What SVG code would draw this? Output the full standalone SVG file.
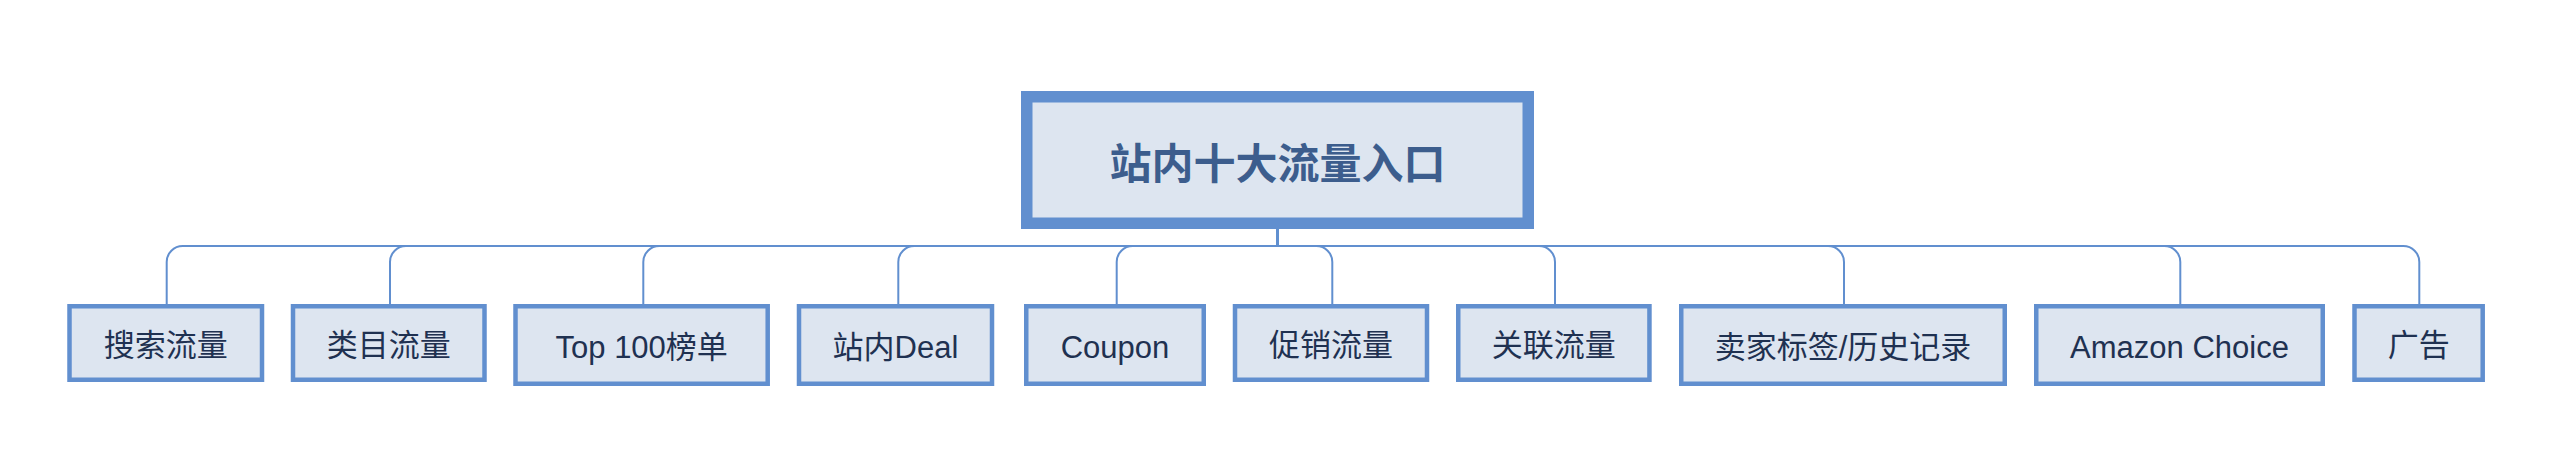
<svg xmlns="http://www.w3.org/2000/svg" width="2560" height="452" viewBox="0 0 2560 452">
<style>
.box{fill:#dde5f0;stroke:#618fcf;stroke-width:4.5}
.root{fill:#dde5f0;stroke:#618fcf;stroke-width:11.5}
.conn{fill:none;stroke:#618fcf;stroke-width:2}
.lt{font-family:"Liberation Sans","Noto Sans CJK SC",sans-serif;font-size:31px;fill:#1f3151;text-anchor:middle;dominant-baseline:central}
.rt{font-family:"Noto Sans CJK SC","Liberation Sans",sans-serif;font-size:42px;font-weight:bold;fill:#3c5d8d;text-anchor:middle;dominant-baseline:central}
</style>
<rect width="2560" height="452" fill="#ffffff"/>
<g id="connectors">
<path class="conn" d="M1277.5 228V246H182.7A16 16 0 0 0 166.7 262V304"/>
<path class="conn" d="M1277.5 228V246H406A16 16 0 0 0 390 262V304"/>
<path class="conn" d="M1277.5 228V246H659.3A16 16 0 0 0 643.3 262V304"/>
<path class="conn" d="M1277.5 228V246H914.3A16 16 0 0 0 898.3 262V304"/>
<path class="conn" d="M1277.5 228V246H1132.7A16 16 0 0 0 1116.7 262V304"/>
<path class="conn" d="M1277.5 228V246H1316.3A16 16 0 0 1 1332.3 262V304"/>
<path class="conn" d="M1277.5 228V246H1539A16 16 0 0 1 1555 262V304"/>
<path class="conn" d="M1277.5 228V246H1828A16 16 0 0 1 1844 262V304"/>
<path class="conn" d="M1277.5 228V246H2164.3A16 16 0 0 1 2180.3 262V304"/>
<path class="conn" d="M1277.5 228V246H2403.3A16 16 0 0 1 2419.3 262V304"/>
</g>
<g id="root">
<rect class="root" x="1026.75" y="96.75" width="501.5" height="126.5"/>
<text class="rt" x="1277.5" y="160">站内十大流量入口</text>
</g>
<g id="n1">
<rect class="box" x="69.5" y="306.25" width="192.5" height="73.5"/>
<text class="lt" x="165.7" y="345">搜索流量</text>
</g>
<g id="n2">
<rect class="box" x="293" y="306.25" width="191.5" height="73.5"/>
<text class="lt" x="388.7" y="345">类目流量</text>
</g>
<g id="n3">
<rect class="box" x="515.5" y="306.25" width="252.2" height="77.5"/>
<text class="lt" x="641.7" y="347">Top 100榜单</text>
</g>
<g id="n4">
<rect class="box" x="799" y="306.25" width="193" height="77.5"/>
<text class="lt" x="895.4" y="347">站内Deal</text>
</g>
<g id="n5">
<rect class="box" x="1026.25" y="306.25" width="177.5" height="77.5"/>
<text class="lt" x="1115" y="347">Coupon</text>
</g>
<g id="n6">
<rect class="box" x="1235" y="306.25" width="192" height="73.5"/>
<text class="lt" x="1331" y="345">促销流量</text>
</g>
<g id="n7">
<rect class="box" x="1458.25" y="306.25" width="191.2" height="73.5"/>
<text class="lt" x="1553.8" y="345">关联流量</text>
</g>
<g id="n8">
<rect class="box" x="1681.25" y="306.25" width="323.5" height="77.5"/>
<text class="lt" x="1843" y="347">卖家标签/历史记录</text>
</g>
<g id="n9">
<rect class="box" x="2036.25" y="306.25" width="286.5" height="77.5"/>
<text class="lt" x="2179.5" y="347">Amazon Choice</text>
</g>
<g id="n10">
<rect class="box" x="2354.5" y="306.25" width="128.2" height="73.5"/>
<text class="lt" x="2418.7" y="345">广告</text>
</g>
</svg>
